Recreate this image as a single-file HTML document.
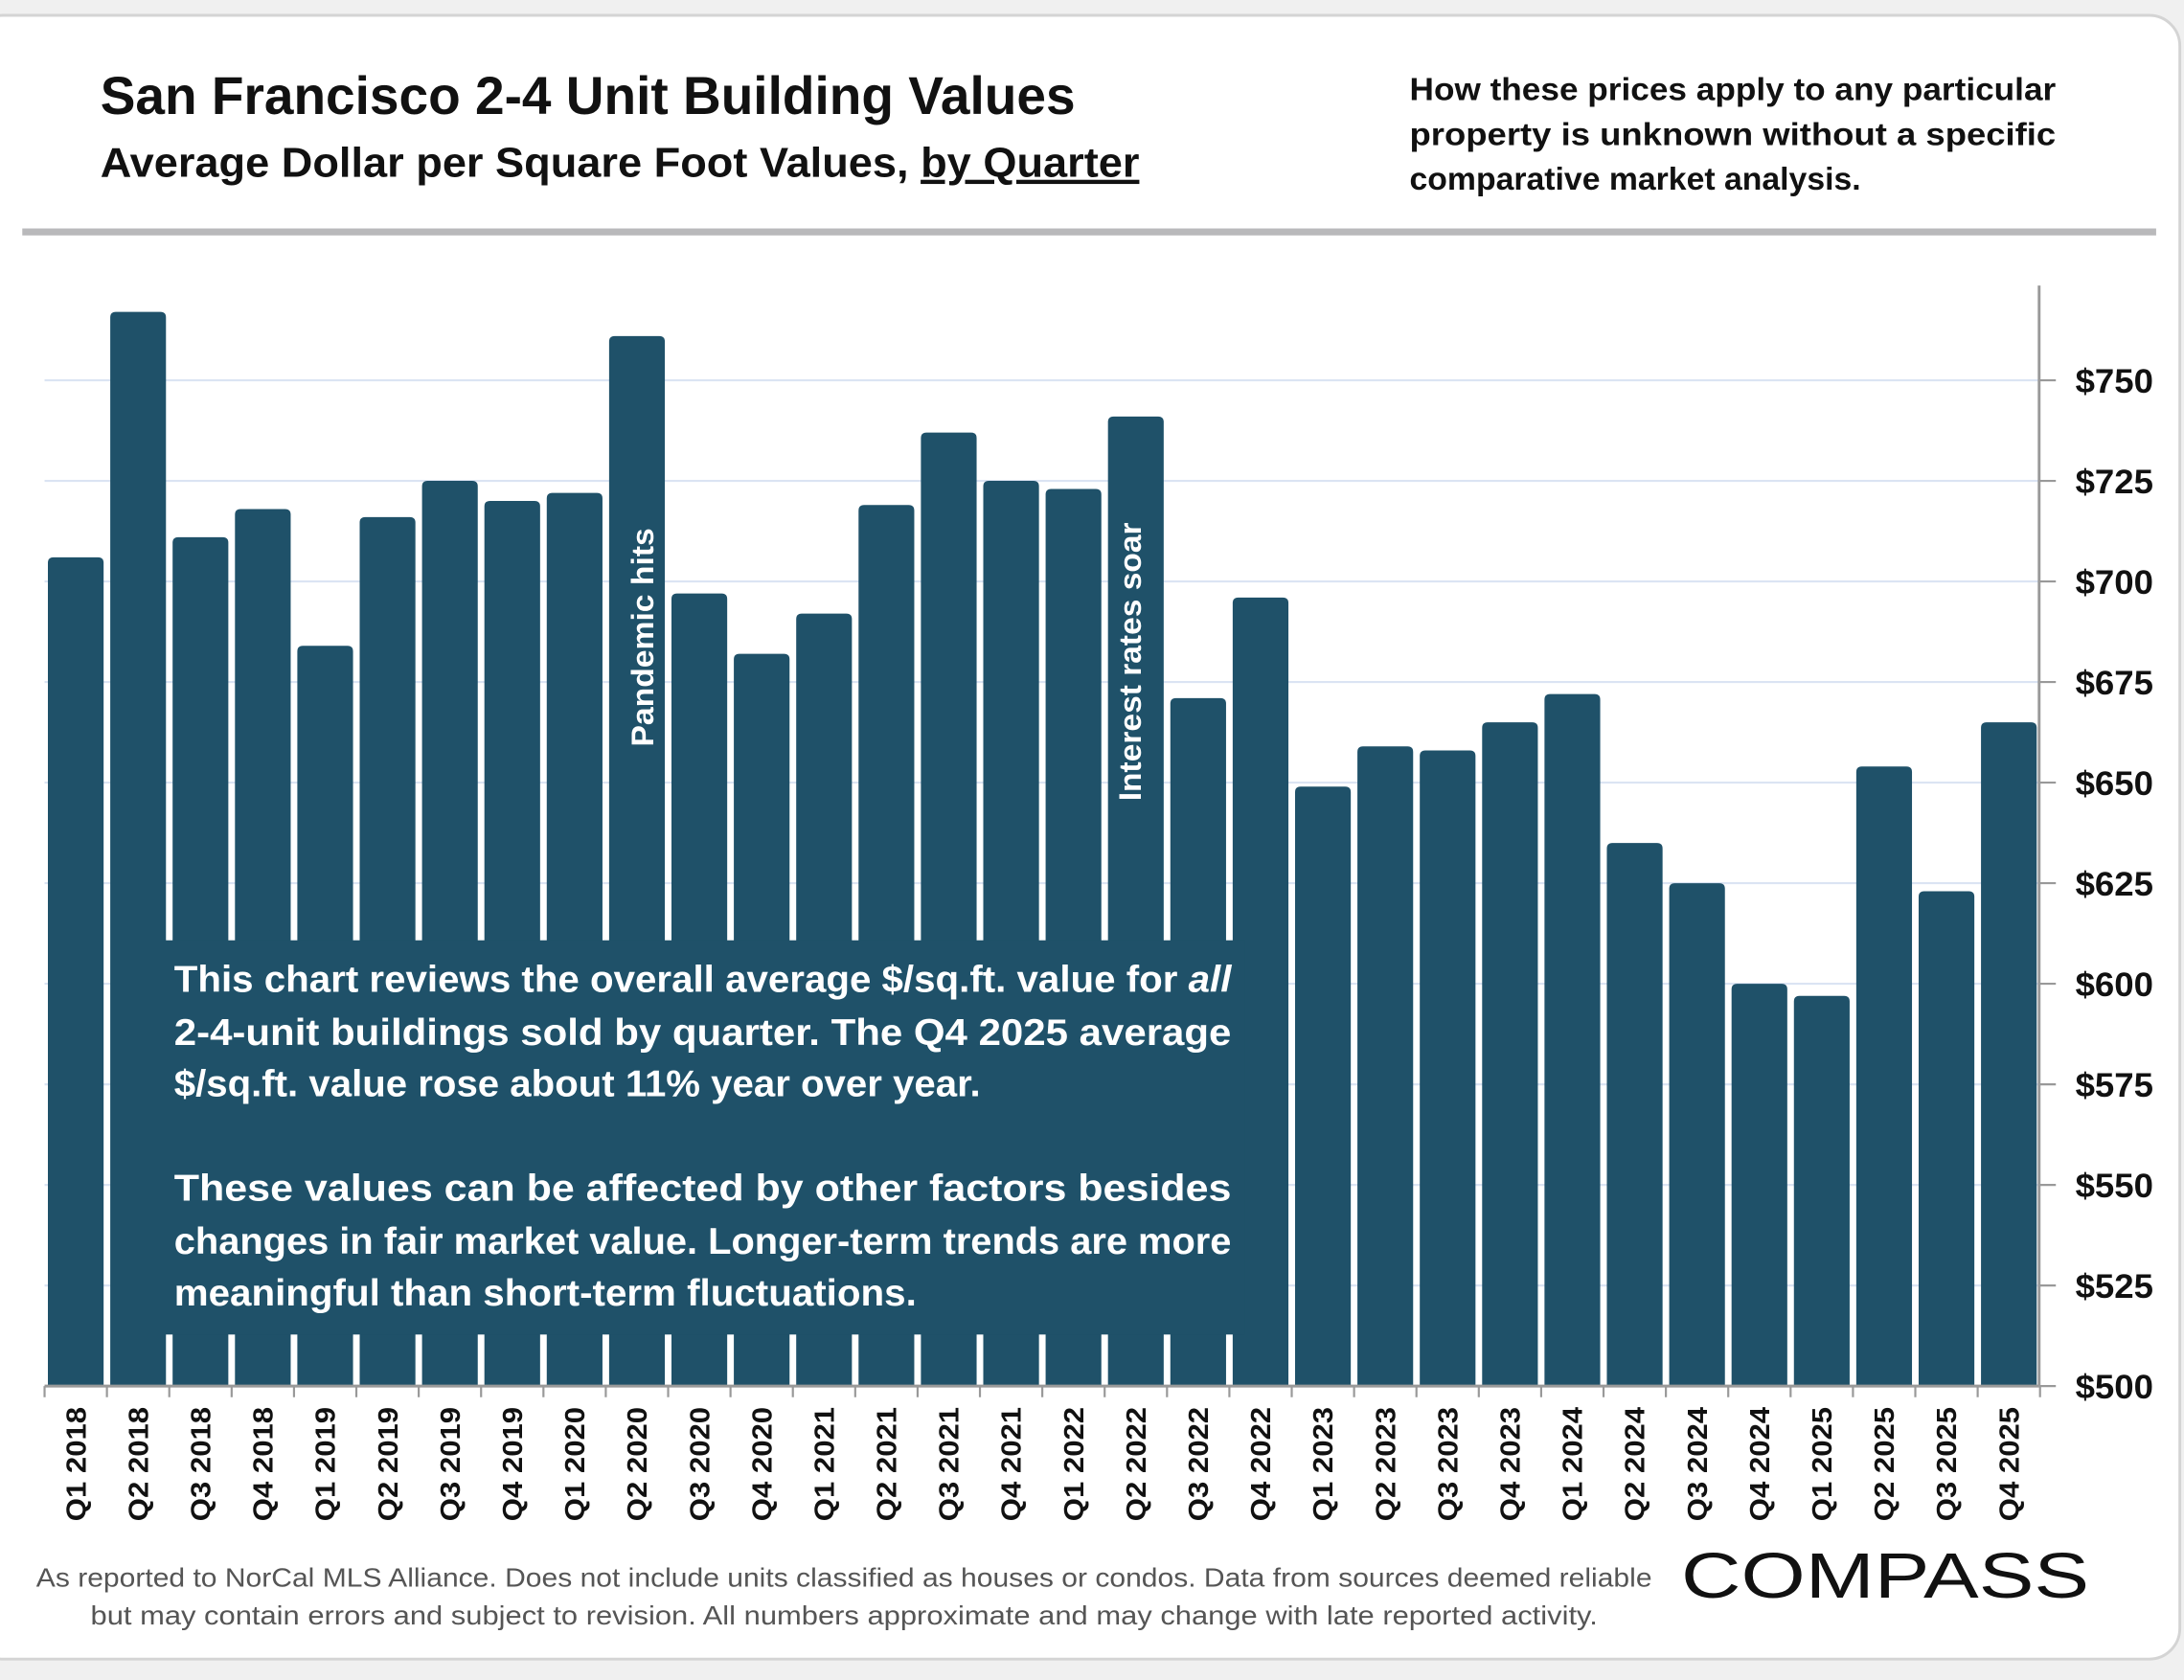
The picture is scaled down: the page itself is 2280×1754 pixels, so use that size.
<!DOCTYPE html>
<html><head><meta charset="utf-8"><style>
html,body{margin:0;padding:0;background:#f0f0f0;}
svg{display:block;}
text{font-family:"Liberation Sans",sans-serif;}
</style></head><body>
<svg id="chart" width="2280" height="1754" viewBox="0 0 1568 1206" preserveAspectRatio="none" xmlns="http://www.w3.org/2000/svg">
<rect x="-20" y="11" width="1585" height="1180" rx="22" fill="#ffffff" stroke="#d4d4d4" stroke-width="2"/>
<text x="72" y="82" font-size="38" font-weight="bold" fill="#111" textLength="700" lengthAdjust="spacingAndGlyphs">San Francisco 2-4 Unit Building Values</text>
<text x="72" y="127" font-size="30" font-weight="bold" fill="#111" textLength="746" lengthAdjust="spacingAndGlyphs">Average Dollar per Square Foot Values, <tspan text-decoration="underline">by Quarter</tspan></text>
<g font-size="23" font-weight="bold" fill="#111">
<text x="1012" y="72" textLength="464" lengthAdjust="spacingAndGlyphs">How these prices apply to any particular</text>
<text x="1012" y="104" textLength="464" lengthAdjust="spacingAndGlyphs">property is unknown without a specific</text>
<text x="1012" y="136" textLength="324" lengthAdjust="spacingAndGlyphs">comparative market analysis.</text>
</g>
<rect x="16" y="164" width="1532" height="5" fill="#b9b9bb"/>
<g id="grid"></g>
<g id="bars"></g>
<rect x="118" y="675" width="776" height="283" fill="#1f5169"/>
<g font-size="26.5" font-weight="bold" fill="#ffffff">
<text x="125" y="712" textLength="759" lengthAdjust="spacingAndGlyphs">This chart reviews the overall average $/sq.ft. value for <tspan font-style="italic">all</tspan></text>
<text x="125" y="750" textLength="759" lengthAdjust="spacingAndGlyphs">2-4-unit buildings sold by quarter. The Q4 2025 average</text>
<text x="125" y="787" textLength="579" lengthAdjust="spacingAndGlyphs">$/sq.ft. value rose about 11% year over year.</text>
<text x="125" y="862" textLength="759" lengthAdjust="spacingAndGlyphs">These values can be affected by other factors besides</text>
<text x="125" y="900" textLength="759" lengthAdjust="spacingAndGlyphs">changes in fair market value. Longer-term trends are more</text>
<text x="125" y="937" textLength="533" lengthAdjust="spacingAndGlyphs">meaningful than short-term fluctuations.</text>
</g>
<text transform="translate(469,536) rotate(-90)" font-size="22" font-weight="bold" fill="#fff" textLength="157" lengthAdjust="spacingAndGlyphs">Pandemic hits</text>
<text transform="translate(819,575) rotate(-90)" font-size="22" font-weight="bold" fill="#fff" textLength="200" lengthAdjust="spacingAndGlyphs">Interest rates soar</text>
<g id="axes"></g>
<g font-size="19" fill="#555" text-anchor="middle">
<text x="606" y="1139" textLength="1160" lengthAdjust="spacingAndGlyphs">As reported to NorCal MLS Alliance. Does not include units classified as houses or condos. Data from sources deemed reliable</text>
<text x="606" y="1166" textLength="1082" lengthAdjust="spacingAndGlyphs">but may contain errors and subject to revision. All numbers approximate and may change with late reported activity.</text>
</g>
<text x="1207" y="1147" font-size="46" fill="#111" textLength="293" lengthAdjust="spacingAndGlyphs">COMPASS</text>
</svg>
<script>
const categories=["Q1 2018","Q2 2018","Q3 2018","Q4 2018","Q1 2019","Q2 2019","Q3 2019","Q4 2019","Q1 2020","Q2 2020","Q3 2020","Q4 2020","Q1 2021","Q2 2021","Q3 2021","Q4 2021","Q1 2022","Q2 2022","Q3 2022","Q4 2022","Q1 2023","Q2 2023","Q3 2023","Q4 2023","Q1 2024","Q2 2024","Q3 2024","Q4 2024","Q1 2025","Q2 2025","Q3 2025","Q4 2025"];
const values=[706,767,711,718,684,716,725,720,722,761,697,682,692,719,737,725,723,741,671,696,649,659,658,665,672,635,625,600,597,654,623,665];
const tickValues=[500,525,550,575,600,625,650,675,700,725,750];
const tickLabels=["$500","$525","$550","$575","$600","$625","$650","$675","$700","$725","$750"];
const NS="http://www.w3.org/2000/svg";
const Y0=995,Y1=273,V0=500,V1=750,X0=32,XSTEP=44.77,BW=40,AXX=1464;
function y(v){return Y0-(v-V0)*(Y0-Y1)/(V1-V0);}
function xc(i){return X0+XSTEP*(i+0.5);}
function mk(t,a,p){const e=document.createElementNS(NS,t);for(const k in a)e.setAttribute(k,a[k]);p.appendChild(e);return e;}
const grid=document.getElementById('grid'),bars=document.getElementById('bars'),axes=document.getElementById('axes');
tickValues.forEach((v,i)=>{
 if(v>V0){const g=mk('line',{x1:X0,x2:AXX,y1:y(v),y2:y(v),stroke:'#dbe4f3','stroke-width':1.5},grid);
 
 }
 const t=mk('line',{x1:AXX,x2:AXX+12,y1:y(v),y2:y(v),stroke:'#999','stroke-width':1.5},axes);
 
 
 const l=mk('text',{x:1490,y:y(v)+9,'font-size':24,'font-weight':'bold',fill:'#111',textLength:56,lengthAdjust:'spacingAndGlyphs'},axes);
 l.textContent=tickLabels[i];
 
 
});
values.forEach((v,i)=>{
 const x=xc(i)-BW/2,t=y(v),r=4;
 const p=mk('path',{d:`M${x},${Y0} L${x},${t+r} Q${x},${t} ${x+r},${t} L${x+BW-r},${t} Q${x+BW},${t} ${x+BW},${t+r} L${x+BW},${Y0} Z`,fill:'#1f5169'},bars);
 
 
 const lb=mk('text',{transform:`translate(${xc(i)+7},1092) rotate(-90)`,'font-size':20,'font-weight':'bold',fill:'#111',textLength:82,lengthAdjust:'spacingAndGlyphs'},axes);
 lb.textContent=categories[i];
 
 
});
for(let i=0;i<=categories.length;i++){
 const tk=mk('line',{x1:X0+XSTEP*i,x2:X0+XSTEP*i,y1:Y0,y2:Y0+8,stroke:'#999','stroke-width':1.5},axes);
 
 
}
const xa=mk('line',{x1:X0,x2:AXX,y1:Y0,y2:Y0,stroke:'#999','stroke-width':2},axes);


const ya=mk('line',{x1:AXX,x2:AXX,y1:205,y2:Y0,stroke:'#999','stroke-width':2},axes);


</script>
</body></html>
